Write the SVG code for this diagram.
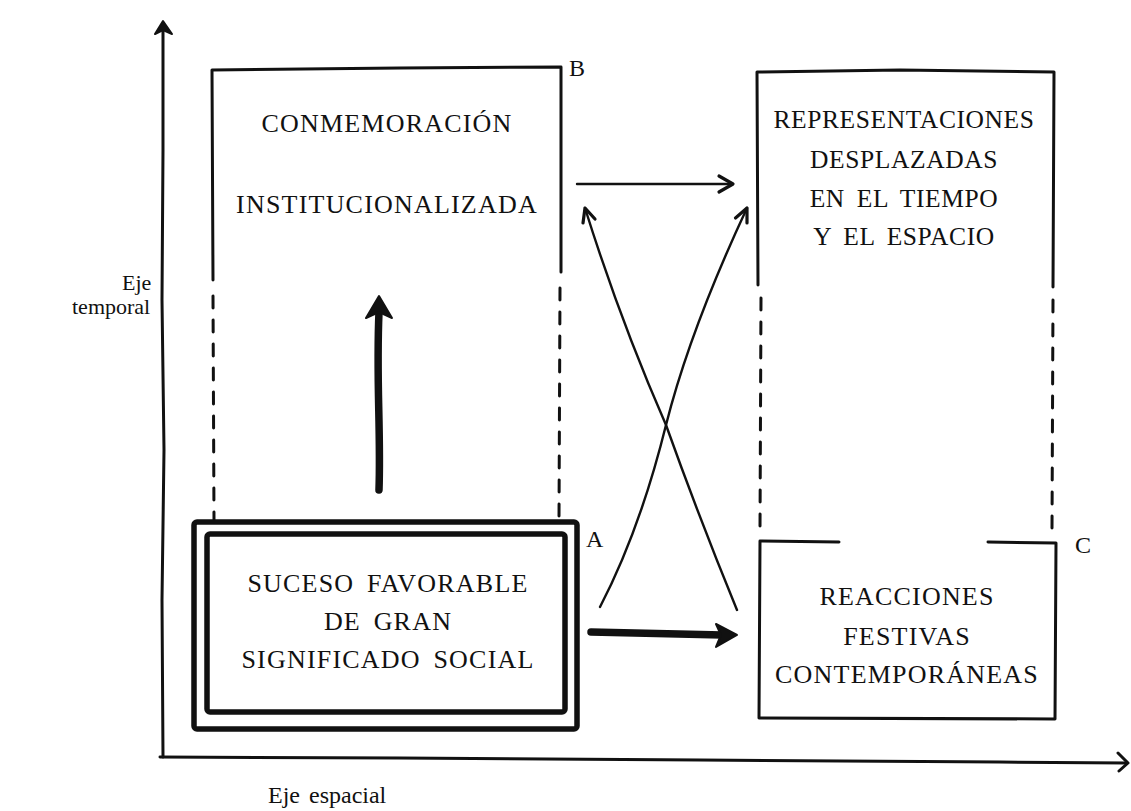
<svg xmlns="http://www.w3.org/2000/svg" width="1131" height="811" viewBox="0 0 1131 811">
<style>
.t{font-family:"Liberation Serif","Times New Roman",serif;font-size:26px;letter-spacing:1.2px;word-spacing:5px;fill:#111;text-anchor:middle}
.lbl{font-family:"Liberation Serif","Times New Roman",serif;font-size:24px;fill:#111}
.ax{font-family:"Liberation Serif","Times New Roman",serif;font-size:22px;fill:#111}
.s{fill:none;stroke:#111;stroke-width:3;stroke-linecap:round;stroke-linejoin:round}
.d{fill:none;stroke:#111;stroke-width:3;stroke-linecap:round;stroke-dasharray:12 12}
.dbl{fill:none;stroke:#111;stroke-width:5.5;stroke-linejoin:round}
.thin{fill:none;stroke:#111;stroke-width:2.4;stroke-linecap:round;stroke-linejoin:round}
.thinhead{fill:none;stroke:#111;stroke-width:3.2;stroke-linecap:round;stroke-linejoin:round}
.thick{fill:none;stroke:#111;stroke-width:7.5;stroke-linecap:round}
.head{fill:#111;stroke:#111;stroke-width:2;stroke-linejoin:round}
</style>
<g id="axes">
<path class="s" d="M163,757 L162,600 L164,450 L162,300 L163,150 L163,28"/>
<path class="head" d="M163,21 L172,34 L163,30 L155,34 Z"/>
<path class="s" d="M160,757 L400,758 L700,760 L1000,762 L1127,763"/>
<path class="s" d="M1118,753 L1128,763 L1119,771"/>
<text class="ax" x="122" y="290">Eje</text>
<text class="ax" x="72" y="314">temporal</text>
<text class="lbl" x="268" y="803" style="word-spacing:3px">Eje espacial</text>
</g>
<g id="nodeB">
<path class="s" d="M213,280 L212,70 L400,68 L561,67 L561,272"/>
<path class="d" d="M213,296 L214,520"/>
<path class="d" d="M560,288 L559,520"/>
<text class="lbl" x="569" y="76">B</text>
<text class="t" x="387" y="132">CONMEMORACIÓN</text>
<text class="t" x="387" y="213">INSTITUCIONALIZADA</text>
</g>
<g id="nodeA">
<rect class="dbl" x="194" y="522" width="383" height="207" rx="3"/>
<rect class="dbl" x="207" y="534" width="358" height="178" rx="3"/>
<text class="lbl" x="586" y="547">A</text>
<text class="t" x="388" y="592">SUCESO FAVORABLE</text>
<text class="t" x="388" y="630">DE GRAN</text>
<text class="t" x="388" y="668">SIGNIFICADO SOCIAL</text>
</g>
<g id="nodeR">
<path class="s" d="M758,285 L757,72 L900,70 L1054,72 L1053,287"/>
<path class="d" d="M761,298 L760,530"/>
<path class="d" d="M1053,300 L1052,530"/>
<text class="t" x="904" y="128" style="font-size:25.5px;letter-spacing:0.6px">REPRESENTACIONES</text>
<text class="t" x="904" y="168" style="font-size:25.5px;letter-spacing:0.6px">DESPLAZADAS</text>
<text class="t" x="904" y="207" style="font-size:25.5px;letter-spacing:0.6px">EN EL TIEMPO</text>
<text class="t" x="904" y="245" style="font-size:25.5px;letter-spacing:0.6px">Y EL ESPACIO</text>
</g>
<g id="nodeC">
<path class="s" d="M839,542 L760,541 L759,718 L1055,719 L1056,543 L988,542"/>
<text class="lbl" x="1075" y="553">C</text>
<text class="t" x="907" y="605">REACCIONES</text>
<text class="t" x="907" y="645">FESTIVAS</text>
<text class="t" x="907" y="683">CONTEMPORÁNEAS</text>
</g>
<g id="connectors">
<path class="thick" d="M379,490 C381,430 376,380 379,312"/>
<path class="head" d="M379,296 L392,318 L379,312 L366,318 Z"/>
<path class="thick" d="M591,632 L722,635"/>
<path class="head" d="M737,635 L716,624 L721,635 L716,647 Z"/>
<path class="thin" d="M577,184 L732,184"/>
<path class="thinhead" d="M719,176 L733,184 L719,192"/>
<path class="thin" d="M600,607 Q640,530 666,425 Q690,330 747,208"/>
<path class="thinhead" d="M735.5,218 L747,208 L747,223"/>
<path class="thin" d="M737,610 Q700,520 666,425 Q620,320 585,208"/>
<path class="thinhead" d="M583,223 L585,208 L595,219"/>
</g>
</svg>
